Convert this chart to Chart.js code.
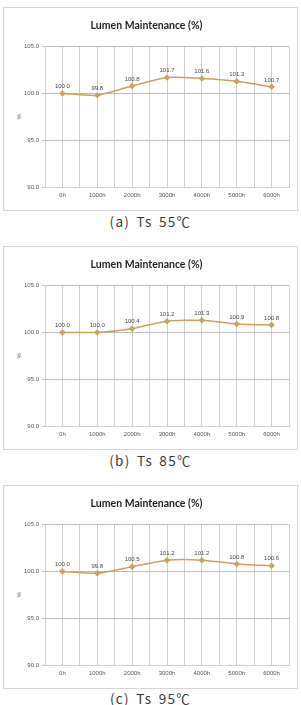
<!DOCTYPE html>
<html>
<head>
<meta charset="utf-8">
<script src="https://cdn.jsdelivr.net/npm/chart.js@4.4.0/dist/chart.umd.min.js"></script>
<style>
  body { margin: 0; background: #fff; width: 301px; height: 705px; position: relative; overflow: hidden; }
  .box { position: absolute; left: 3px; width: 293px; height: 202px; border: 1px solid #d4d4d4; }
  .box canvas { display: block; }
  .cap { position: absolute; left: 0; width: 301px; text-align: center; font-family: "Noto Sans CJK KR", sans-serif;
         font-size: 13.5px; color: #3a3a3a; letter-spacing: 1.3px; word-spacing: 2px; line-height: 16px; }
</style>
</head>
<body>
<div class="box" style="top:7px"><canvas id="chartA" width="293" height="202"></canvas></div>
<div class="cap" style="top:213px">(a) Ts 55℃</div>
<div class="box" style="top:246px"><canvas id="chartB" width="293" height="202"></canvas></div>
<div class="cap" style="top:452px">(b) Ts 85℃</div>
<div class="box" style="top:485px"><canvas id="chartC" width="293" height="202"></canvas></div>
<div class="cap" style="top:690px">(c) Ts 95℃</div>

<script>
// hours on test
const categories = ['0h', '1000h', '2000h', '3000h', '4000h', '5000h', '6000h'];

// lumen maintenance (%) per Ts temperature
const ts55 = [100.0, 99.8, 100.8, 101.7, 101.6, 101.3, 100.7];
const ts85 = [100.0, 100.0, 100.4, 101.2, 101.3, 100.9, 100.8];
const ts95 = [100.0, 99.8, 100.5, 101.2, 101.2, 100.8, 100.6];

const yTicks = [90, 95, 100, 105];

const lineColor = '#c9a35a';

// small value labels above each point
const valueLabels = {
  id: 'valueLabels',
  afterDatasetsDraw(chart) {
    const ctx = chart.ctx;
    const meta = chart.getDatasetMeta(0);
    const data = chart.data.datasets[0].data;
    ctx.save();
    ctx.font = '6px "Liberation Sans", Arial, sans-serif';
    ctx.fillStyle = '#444';
    ctx.textAlign = 'center';
    ctx.textBaseline = 'bottom';
    meta.data.forEach((pt, i) => {
      ctx.fillText(data[i].y.toFixed(1), pt.x, pt.y - 4);
    });
    ctx.restore();
  }
};

function makeChart(id, values) {
  const ctx = document.getElementById(id).getContext('2d');
  return new Chart(ctx, {
    type: 'line',
    data: {
      datasets: [{
        data: values.map((v, i) => ({ x: i, y: v })),
        borderColor: lineColor,
        backgroundColor: lineColor,
        borderWidth: 1.5,
        pointStyle: 'rectRot',
        pointRadius: 2.2,
        tension: 0.2
      }]
    },
    options: {
      responsive: false,
      animation: false,
      layout: { padding: { top: 0, left: 0, right: 8, bottom: 0 } },
      plugins: {
        legend: { display: false },
        tooltip: { enabled: false },
        title: {
          display: true,
          text: 'Lumen Maintenance (%)',
          color: '#1e1e1e',
          font: { family: 'Lato, "Open Sans", sans-serif', size: 10.5, weight: 'bold' },
          padding: { top: 11, bottom: 15 }
        }
      },
      scales: {
        x: {
          type: 'linear',
          min: -0.5,
          max: categories.length - 0.5,
          afterFit(scale) { scale.height = 23; },
          grid: { color: '#cfcfcf', lineWidth: 1, drawTicks: false },
          border: { color: '#cfcfcf' },
          ticks: {
            stepSize: 0.5,
            maxTicksLimit: 30,
            autoSkip: false,
            maxRotation: 0,
            padding: 5,
            color: '#555',
            font: { family: '"Liberation Sans", Arial, sans-serif', size: 6 },
            callback: v => Number.isInteger(v) ? categories[v] : ''
          }
        },
        y: {
          min: yTicks[0],
          max: yTicks[yTicks.length - 1],
          afterFit(scale) { scale.width = 41; },
          afterBuildTicks(scale) { scale.ticks = yTicks.map(v => ({ value: v })); },
          grid: { color: '#bcbcbc', lineWidth: 1, tickLength: 3 },
          border: { color: '#cfcfcf' },
          title: {
            display: true,
            text: '%',
            color: '#555',
            font: { family: '"Liberation Sans", Arial, sans-serif', size: 6 },
            padding: { top: 12, bottom: 0 }
          },
          ticks: {
            padding: 3,
            color: '#555',
            font: { family: '"Liberation Sans", Arial, sans-serif', size: 6 },
            callback: v => v.toFixed(1)
          }
        }
      }
    },
    plugins: [valueLabels]
  });
}

makeChart('chartA', ts55);
makeChart('chartB', ts85);
makeChart('chartC', ts95);
</script>
</body>
</html>
